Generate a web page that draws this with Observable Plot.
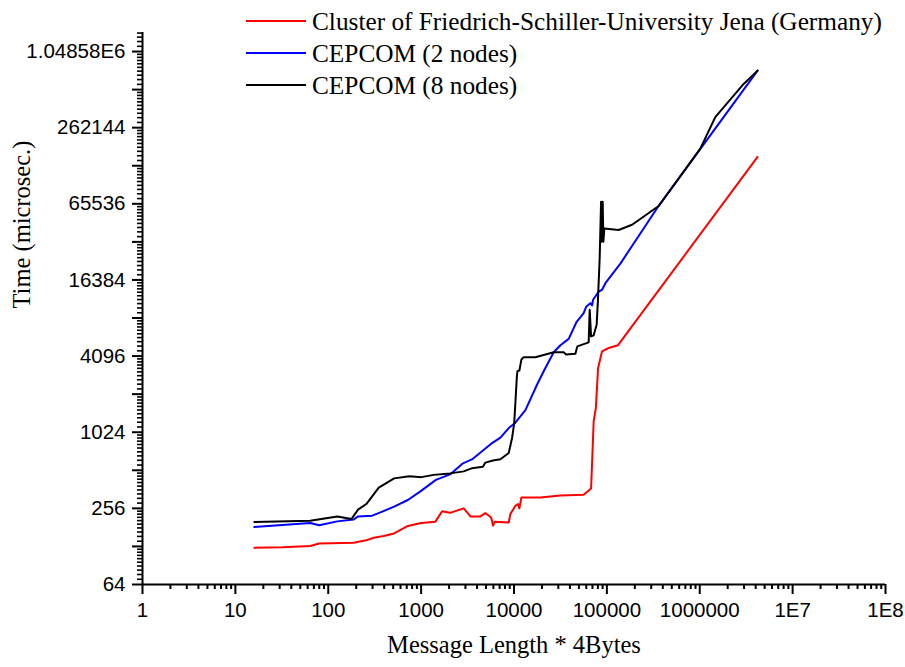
<!DOCTYPE html>
<html>
<head>
<meta charset="utf-8">
<script src="https://cdn.jsdelivr.net/npm/d3@7"></script>
<script src="https://cdn.jsdelivr.net/npm/@observablehq/plot@0.6"></script>
<style>
  html, body { margin: 0; padding: 0; background: #fff; }
</style>
</head>
<body>
<div id="chart"></div>
<script>
// ---- Axis ticks and labels ----
const xTicks = [1, 10, 100, 1e3, 1e4, 1e5, 1e6, 1e7, 1e8];
const xTickLabels = ["1", "10", "100", "1000", "10000", "100000", "1000000", "1E7", "1E8"];
const yTicks = [64, 256, 1024, 4096, 16384, 65536, 262144, 1048576];
const yTickLabels = ["64", "256", "1024", "4096", "16384", "65536", "262144", "1.04858E6"];
const xDomain = [1, 1e8];
const yDomain = [64, Math.pow(2, 20.5)];

// ---- Series ----
const seriesNames = [
  "Cluster of Friedrich-Schiller-University Jena (Germany)",
  "CEPCOM (2 nodes)",
  "CEPCOM (8 nodes)"
];
const seriesColors = ["#ff0000", "#0000ff", "#000000"];

const redX = [16, 32, 64, 80, 188, 256, 309, 395, 512, 720, 1000, 1425, 1683, 2048, 2874, 3396, 4347, 4920, 5670, 5957, 6200, 8770, 9142, 10350, 11070, 11430, 12010, 19240, 31590, 56230, 67600, 72100, 76140, 80400, 88750, 104500, 131300, 4194304];
const redY = [125, 126, 129, 135, 137, 143, 150, 155, 162, 186, 196, 201, 243, 236, 256, 221, 221, 235, 217, 187, 201, 198, 231, 268, 277, 256, 312, 312, 324, 328, 367, 1254, 1597, 3302, 4469, 4744, 4985, 153800];

const blueX = [16, 64, 80, 125, 188, 209, 297, 365, 512, 720, 982, 1442, 2048, 2783, 3524, 5640, 7140, 8772, 10350, 13270, 17730, 20880, 26750, 31590, 38810, 46980, 56230, 60130, 66400, 69300, 71060, 81660, 88750, 96400, 139700, 361400, 4194304];
const blueY = [182, 196, 188, 202, 209, 221, 224, 238, 264, 298, 349, 430, 475, 578, 624, 827, 927, 1105, 1217, 1532, 2442, 3108, 4388, 4985, 5606, 7590, 8953, 10112, 10735, 10297, 11418, 13276, 13690, 15435, 22060, 63220, 741000];

const blackX = [16, 64, 125, 178, 209, 257, 350, 512, 748, 1007, 1367, 2048, 2874, 3540, 4624, 4920, 5930, 7140, 8772, 9545, 10050, 10350, 10740, 10890, 11430, 12010, 12610, 16980, 26750, 34280, 36390, 45830, 48100, 63680, 65300, 67600, 72100, 77600, 80000, 83640, 86600, 87700, 88500, 89430, 90150, 91700, 93950, 133900, 186700, 361400, 1014000, 1470000, 2970000, 4194304];
const blackY = [200, 204, 221, 211, 250, 277, 374, 442, 460, 452, 471, 484, 502, 532, 547, 589, 611, 626, 702, 927, 1210, 1749, 2838, 3108, 3148, 3844, 4007, 4007, 4388, 4400, 4209, 4270, 4893, 5261, 9523, 5864, 5976, 7258, 11074, 24290, 67950, 32880, 62050, 34100, 67950, 32880, 41860, 40680, 44770, 62960, 178800, 317600, 581400, 741000];

// ---- Build tables ----
const seriesX = [redX, blueX, blackX];
const seriesY = [redY, blueY, blackY];
const rows = [];
seriesX.forEach((xs, s) => xs.forEach((x, i) => rows.push({series: seriesNames[s], x, y: seriesY[s][i]})));

// minor ticks
const xMinor = [];
for (let e = 0; e < 8; e++) for (let m = 2; m <= 9; m++) xMinor.push(m * Math.pow(10, e));
const yMedium = yTicks.map(v => v * 2).filter(v => v <= yDomain[1]);
const yMinor = [];
for (let k = 6; k <= 20; k++) {
  const base = Math.pow(2, k);
  for (let j = 1; j <= 9; j++) {
    const v = base * (1 + j / 10);
    if (v <= yDomain[1]) yMinor.push(v);
  }
}

const sans = "'Liberation Sans', Arial, sans-serif";
const serif = "'Liberation Serif', 'Times New Roman', serif";

const plot = Plot.plot({
  width: 905,
  height: 667,
  marginLeft: 142,
  marginRight: 20,
  marginTop: 32,
  marginBottom: 83,
  x: {type: "log", domain: xDomain},
  y: {type: "log", base: 2, domain: yDomain},
  style: {fontFamily: sans, fontSize: "20px", color: "#000", background: "#fff"},
  marks: [
    Plot.axisX({ticks: xTicks, tickSize: 10, tickPadding: 8, strokeWidth: 2,
      tickFormat: d => xTickLabels[xTicks.indexOf(d)], fontSize: 20.5, label: null}),
    Plot.axisX({ticks: xMinor, tickSize: 5, strokeWidth: 2, tickFormat: () => "", label: null}),
    Plot.axisY({ticks: yTicks, tickSize: 10, tickPadding: 7, strokeWidth: 2,
      tickFormat: d => yTickLabels[yTicks.indexOf(d)], fontSize: 20.5, label: null}),
    Plot.axisY({ticks: yMedium, tickSize: 10, strokeWidth: 2, tickFormat: () => "", label: null}),
    Plot.axisY({ticks: yMinor, tickSize: 5, strokeWidth: 1.6, tickFormat: () => "", label: null}),
    Plot.ruleX([xDomain[0]], {y1: yDomain[0], y2: yDomain[1], strokeWidth: 2}),
    Plot.ruleY([yDomain[0]], {x1: xDomain[0], x2: xDomain[1], strokeWidth: 2}),
    Plot.line(rows, {x: "x", y: "y", z: "series",
      stroke: d => seriesColors[seriesNames.indexOf(d.series)], strokeWidth: 2}),
    Plot.text(["Message Length * 4Bytes"], {frameAnchor: "bottom", dy: 68,
      fontFamily: serif, fontSize: 24.5, fill: "#000"}),
    Plot.text(["Time (microsec.)"], {frameAnchor: "left", dx: -120, rotate: -90,
      fontFamily: serif, fontSize: 24.5, fill: "#000"})
  ]
});

// ---- Legend ----
const lg = d3.select(plot).append("g").attr("class", "legend").attr("text-anchor", "start");
seriesNames.forEach((name, i) => {
  const y = 21 + i * 32;
  lg.append("line").attr("x1", 246).attr("x2", 306).attr("y1", y).attr("y2", y)
    .attr("stroke", seriesColors[i]).attr("stroke-width", 2);
  lg.append("text").attr("x", 312).attr("y", y).attr("dy", "0.35em").attr("text-anchor", "start")
    .attr("font-family", serif).attr("font-size", 25.3).attr("fill", "#000").text(name);
});

document.getElementById("chart").appendChild(plot);
</script>
</body>
</html>
